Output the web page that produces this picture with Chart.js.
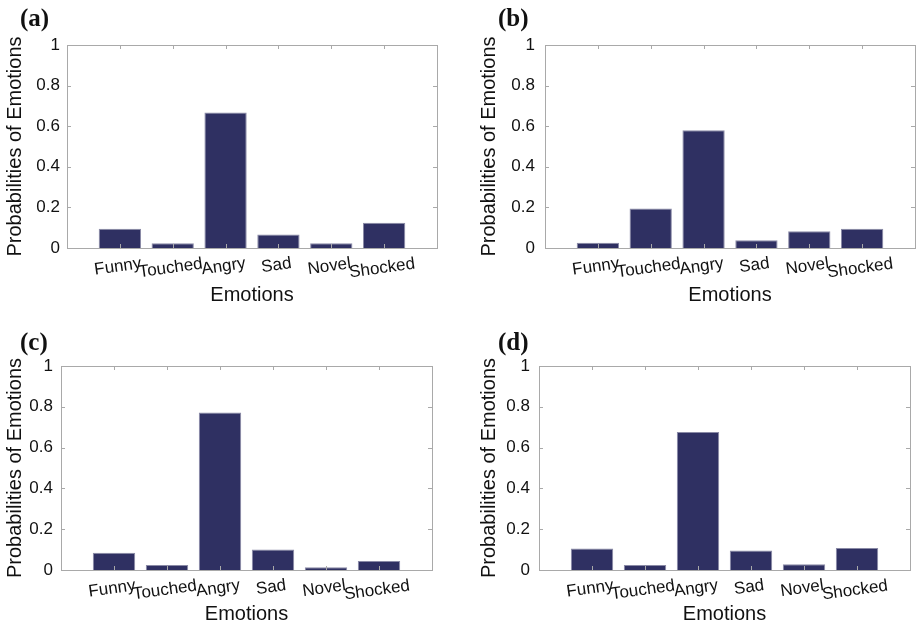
<!DOCTYPE html>
<html><head><meta charset="utf-8">
<script src="https://cdn.jsdelivr.net/npm/chart.js@4.4.0/dist/chart.umd.min.js"></script>
<style>
html,body{margin:0;padding:0;background:#fff;width:916px;height:628px;overflow:hidden;position:relative}
canvas{position:absolute}
.clipb{clip-path:inset(0 0 7px 0)}
.lbl{position:absolute;font-family:"Liberation Serif","Times New Roman",serif;font-weight:bold;font-size:25px;line-height:1;color:#111}
</style></head><body>
<canvas id="ca" width="458" height="314" style="left:0;top:0"></canvas>
<canvas id="cb" width="458" height="314" style="left:458px;top:0"></canvas>
<canvas id="cc" class="clipb" width="458" height="314" style="left:0;top:314px"></canvas>
<canvas id="cd" class="clipb" width="458" height="314" style="left:458px;top:314px"></canvas>
<div class="lbl" id="la" style="left:20px;top:5px"></div>
<div class="lbl" id="lb" style="left:498px;top:5px"></div>
<div class="lbl" id="lc" style="left:20px;top:329px"></div>
<div class="lbl" id="ld" style="left:498px;top:329px"></div>
<script>
// ---- data ----
const categories = ['Funny', 'Touched', 'Angry', 'Sad', 'Novel', 'Shocked'];
const yTicks = [0, 0.2, 0.4, 0.6, 0.8, 1];
const panelLabels = ['(a)', '(b)', '(c)', '(d)'];
const probsA = [0.095, 0.023, 0.668, 0.067, 0.023, 0.125];
const probsB = [0.026, 0.195, 0.580, 0.038, 0.082, 0.095];
const probsC = [0.084, 0.025, 0.772, 0.100, 0.013, 0.044];
const probsD = [0.105, 0.025, 0.676, 0.095, 0.028, 0.108];
const xTitle = 'Emotions';
const yTitle = 'Probabilities of Emotions';

// ---- layout (positions/styles only) ----
const panels = [
  {canvas: 'ca', label: 'la', values: probsA, L: 67, R: 437, T: 45, B: 248, yTitlePad: 3,  yTickPad: 7,  xTitlePad: 7},
  {canvas: 'cb', label: 'lb', values: probsB, L: 87, R: 457, T: 45, B: 248, yTitlePad: 19, yTickPad: 10, xTitlePad: 7},
  {canvas: 'cc', label: 'lc', values: probsC, L: 61, R: 432, T: 52, B: 256, yTitlePad: 3,  yTickPad: 8,  xTitlePad: 2},
  {canvas: 'cd', label: 'ld', values: probsD, L: 81, R: 452, T: 52, B: 256, yTitlePad: 19, yTickPad: 9,  xTitlePad: 2}
];
const SANS = '"Liberation Sans", Arial, Helvetica, sans-serif';
const TEXT = '#111111';
const BOX = '#a9a9a9';
const BAR = '#2f3062';

const matlabAxes = {
  id: 'matlabAxes',
  afterDatasetsDraw(chart) {
    const ctx = chart.ctx, a = chart.chartArea;
    const xs = chart.scales.x, ys = chart.scales.y;
    ctx.save();
    ctx.strokeStyle = BOX; ctx.lineWidth = 1;
    ctx.strokeRect(Math.round(a.left) + 0.5, Math.round(a.top) + 0.5,
                   Math.round(a.right - a.left), Math.round(a.bottom - a.top));
    const tl = 4;
    ctx.beginPath();
    yTicks.forEach(v => {
      const py = Math.round(ys.getPixelForValue(v)) + 0.5;
      ctx.moveTo(a.left, py); ctx.lineTo(a.left + tl, py);
      ctx.moveTo(a.right, py); ctx.lineTo(a.right - tl, py);
    });
    categories.forEach((c, i) => {
      const px = Math.round(xs.getPixelForValue(i + 1)) + 0.5;
      ctx.moveTo(px, a.top); ctx.lineTo(px, a.top + tl);
      ctx.moveTo(px, a.bottom); ctx.lineTo(px, a.bottom - tl);
    });
    ctx.stroke();
    ctx.restore();
  },
  afterDraw(chart) {
    const ctx = chart.ctx, a = chart.chartArea, xs = chart.scales.x;
    ctx.save();
    ctx.font = '17px ' + SANS;
    ctx.fillStyle = TEXT;
    ctx.textAlign = 'center';
    ctx.textBaseline = 'middle';
    categories.forEach((c, i) => {
      const px = xs.getPixelForValue(i + 1);
      const w = ctx.measureText(c).width;
      ctx.save();
      ctx.translate(px - 2, a.bottom + 15 + 0.08 * w);
      ctx.rotate(-8 * Math.PI / 180);
      ctx.fillText(c, 0, 0);
      ctx.restore();
    });
    ctx.restore();
  }
};

panels.forEach((p, k) => {
  document.getElementById(p.label).textContent = panelLabels[k];
  const labels = [''].concat(categories, ['']);
  const data = [null].concat(p.values, [null]);
  new Chart(document.getElementById(p.canvas), {
    type: 'bar',
    data: {
      labels: labels,
      datasets: [{
        data: data,
        backgroundColor: BAR,
        borderColor: '#8a8aa6',
        borderWidth: 1,
        barPercentage: 0.8,
        categoryPercentage: 1.0
      }]
    },
    options: {
      responsive: false,
      animation: false,
      devicePixelRatio: 1,
      layout: {padding: {left: 0, top: p.T, right: 458 - p.R, bottom: 0}},
      plugins: {legend: {display: false}, tooltip: {enabled: false}},
      scales: {
        x: {
          type: 'category',
          offset: false,
          grid: {display: false, drawTicks: false},
          border: {display: false},
          ticks: {display: false},
          title: {display: true, text: xTitle, color: TEXT,
                  font: {family: SANS, size: 20}, padding: {top: 0, bottom: p.xTitlePad}},
          afterFit: s => { s.height = 314 - p.B; }
        },
        y: {
          min: 0, max: 1,
          grid: {display: false, drawTicks: false},
          border: {display: false},
          afterBuildTicks: s => { s.ticks = yTicks.map(v => ({value: v})); },
          ticks: {color: TEXT, font: {family: SANS, size: 17}, padding: p.yTickPad,
                  callback: v => String(Math.round(v * 10) / 10)},
          title: {display: true, text: yTitle, color: TEXT,
                  font: {family: SANS, size: 20}, padding: {top: p.yTitlePad, bottom: 0}},
          afterFit: s => { s.width = p.L; }
        }
      }
    },
    plugins: [matlabAxes]
  });
});
</script>
</body></html>
